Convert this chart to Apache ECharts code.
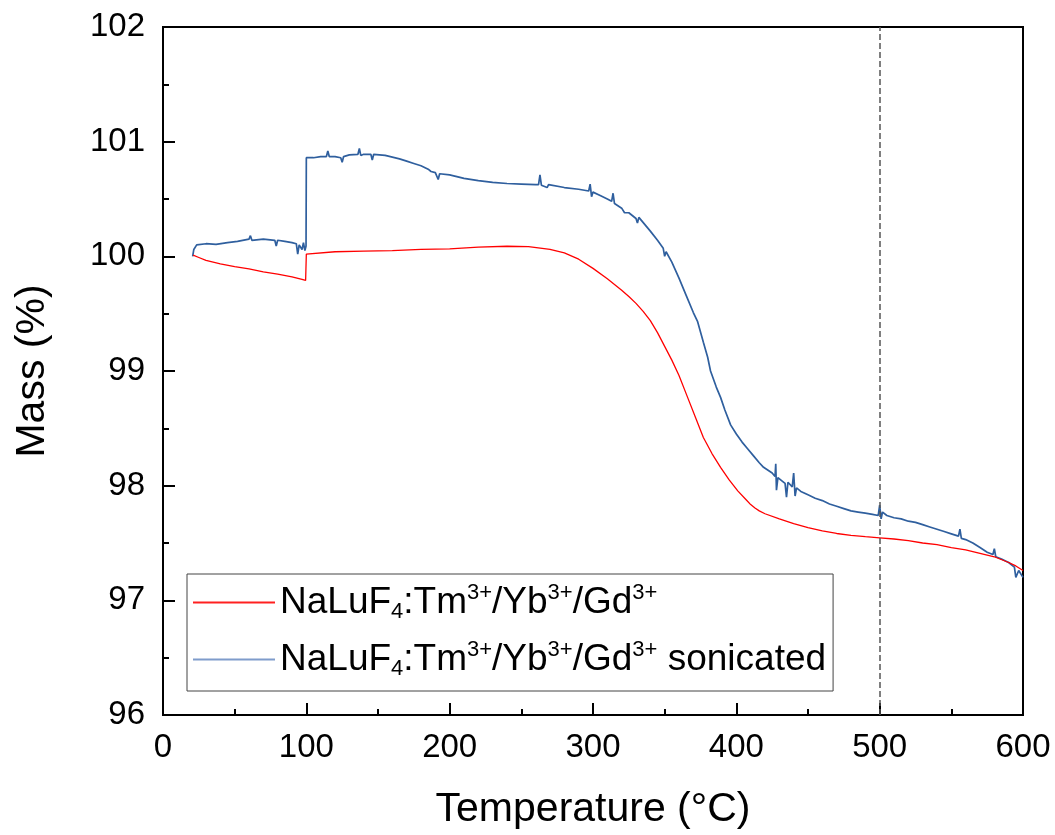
<!DOCTYPE html>
<html>
<head>
<meta charset="utf-8">
<script src="https://cdn.jsdelivr.net/npm/echarts@6/dist/echarts.min.js"></script>
<style>
  html, body { margin: 0; padding: 0; background: #fff; }
  #main { width: 1055px; height: 835px; }
</style>
</head>
<body>
<div id="main"></div>
<script>
var seriesNames = ['NaLuF4:Tm3+/Yb3+/Gd3+', 'NaLuF4:Tm3+/Yb3+/Gd3+ sonicated'];

// red curve (as prepared)
var redTemp = [21, 25, 30, 40, 50, 60, 70, 80, 90, 97, 99.5, 100, 101, 120, 140, 160, 180, 200, 220, 240,
    255, 270, 280, 290, 300, 310, 320, 325, 330, 335, 340, 345, 350, 355, 360, 366, 372, 377, 383, 389, 395, 401, 407,
    410, 413, 416, 420, 430, 440, 450, 460, 470, 480, 490, 500, 510, 520, 530, 540, 550, 560, 570, 580, 590, 595, 600];
var redMass = [100.01, 99.99, 99.965, 99.935, 99.91, 99.89, 99.865, 99.845, 99.82, 99.80, 99.79, 100.02, 100.035, 100.04, 100.045, 100.05, 100.06, 100.065, 100.08, 100.088,
    100.085, 100.06, 100.03, 99.975, 99.895, 99.805, 99.705, 99.65, 99.59, 99.52, 99.44, 99.335, 99.215, 99.095, 98.96, 98.77, 98.58, 98.42, 98.28, 98.16, 98.05, 97.955, 97.875,
    97.835, 97.805, 97.78, 97.755, 97.71, 97.67, 97.635, 97.605, 97.583, 97.567, 97.555, 97.545, 97.535, 97.52, 97.50, 97.485, 97.46, 97.44, 97.41, 97.38, 97.33, 97.30, 97.26];

// blue curve (sonicated), spikes included
var blueTemp = [20.7, 21.5, 23.5, 30, 37, 45, 52, 60, 61, 62, 70, 78, 79, 80, 85, 90, 93, 94, 95, 97, 98, 99, 99.8,
    100, 105, 110, 114, 115, 116, 120, 124, 125, 126, 130, 136, 137, 138, 140, 145, 146, 147, 155, 165, 170, 175, 180,
    185, 187, 190, 192, 193, 200, 210, 220, 230, 240, 250, 260, 262, 263, 264, 268, 269, 280, 290, 297, 298, 299, 300,
    305, 310, 313, 314, 315, 320, 322, 325, 330, 331, 332, 340, 345, 349, 350, 351, 355, 360, 365, 370, 373, 377, 380,
    382, 386, 389, 392, 396, 400, 404, 408, 412, 416, 419, 425, 427, 427.5, 428, 429, 432, 434, 435, 436, 439, 440, 441,
    442, 445, 450, 455, 460, 465, 470, 475, 480, 485, 490, 495, 499, 500, 501, 502, 505, 510, 515, 520, 525, 530, 535,
    540, 545, 550, 555, 556, 557, 560, 565, 570, 575, 579, 580, 581, 585, 590, 594, 595, 597, 600];
var blueMass = [100.0, 100.06, 100.10, 100.11, 100.105, 100.12, 100.13, 100.15, 100.18, 100.14, 100.15, 100.14, 100.09, 100.14, 100.13, 100.12, 100.11, 100.02, 100.10, 100.06, 100.12, 100.05, 100.09,
    100.86, 100.86, 100.87, 100.87, 100.92, 100.87, 100.87, 100.86, 100.82, 100.87, 100.885, 100.89, 100.94, 100.88, 100.89, 100.89, 100.84, 100.89, 100.88, 100.85, 100.83, 100.81, 100.79,
    100.76, 100.74, 100.73, 100.67, 100.72, 100.71, 100.68, 100.66, 100.645, 100.635, 100.63, 100.625, 100.625, 100.71, 100.62, 100.60, 100.625, 100.60, 100.585, 100.57, 100.63, 100.52, 100.56,
    100.53, 100.50, 100.48, 100.55, 100.46, 100.42, 100.38, 100.38, 100.33, 100.29, 100.34, 100.22, 100.14, 100.07, 100.00, 100.04, 99.95, 99.81, 99.66, 99.51, 99.43, 99.25, 99.12,
    99.00, 98.86, 98.77, 98.66, 98.53, 98.45, 98.38, 98.32, 98.26, 98.20, 98.16, 98.11, 98.08, 98.19, 97.96, 98.07, 98.04, 98.02, 97.90, 98.03, 97.99, 98.11, 97.91,
    97.98, 97.95, 97.92, 97.89, 97.87, 97.84, 97.82, 97.80, 97.78, 97.77, 97.76, 97.75, 97.74, 97.83, 97.71, 97.77, 97.74, 97.72, 97.71, 97.69, 97.68, 97.66, 97.64,
    97.62, 97.60, 97.58, 97.56, 97.62, 97.54, 97.53, 97.50, 97.46, 97.42, 97.40, 97.45, 97.38, 97.36, 97.33, 97.29, 97.20, 97.26, 97.20];

var refLineTemp = 500;

function pairs(xs, ys) {
    var out = [];
    for (var i = 0; i < xs.length; i++) out.push([xs[i], ys[i]]);
    return out;
}

var font = '"Liberation Sans", Arial, sans-serif';
var myChart = echarts.init(document.getElementById('main'));

var option = {
    backgroundColor: '#fff',
    animation: false,
    textStyle: { fontFamily: font },
    grid: {
        left: 163, right: 32, top: 27, bottom: 116,
        show: true, borderColor: '#000', borderWidth: 2
    },
    legend: {
        orient: 'vertical',
        left: 187,
        top: 574,
        padding: [8, 7, 11, 6],
        itemGap: 16,
        itemWidth: 82,
        itemHeight: 2,
        itemTextGap: 10,
        icon: 'rect',
        backgroundColor: '#fff',
        borderColor: '#444',
        borderWidth: 1,
        data: [
            { name: seriesNames[0], itemStyle: { color: '#ff2020' } },
            { name: seriesNames[1], itemStyle: { color: '#7f9ccb' } }
        ],
        formatter: function (name) {
            var s = '{n|NaLuF}{sub|4}{n|:Tm}{sup|3+}{n|/Yb}{sup|3+}{n|/Gd}{sup|3+}';
            if (name === seriesNames[1]) s += '{n| sonicated}';
            return s;
        },
        textStyle: {
            color: '#000',
            fontFamily: font,
            fontSize: 37,
            rich: {
                n: { fontSize: 37, lineHeight: 41, fontFamily: font, color: '#000' },
                sup: { fontSize: 22, lineHeight: 22, verticalAlign: 'top', fontFamily: font, color: '#000' },
                sub: { fontSize: 22, lineHeight: 10, verticalAlign: 'bottom', fontFamily: font, color: '#000' }
            }
        }
    },
    xAxis: {
        type: 'value',
        min: 0,
        max: 600,
        interval: 100,
        name: 'Temperature (°C)',
        nameLocation: 'middle',
        nameGap: 74,
        nameTextStyle: { fontSize: 41, color: '#000', fontFamily: font },
        axisLine: { show: true, onZero: false, lineStyle: { color: '#000', width: 2 } },
        axisTick: { show: true, inside: true, length: 12, lineStyle: { color: '#000', width: 2 } },
        minorTick: { show: true, splitNumber: 2, length: 6, lineStyle: { color: '#000', width: 2 } },
        axisLabel: { color: '#000', fontSize: 33, margin: 16, fontFamily: font },
        splitLine: { show: false }
    },
    yAxis: {
        type: 'value',
        min: 96,
        max: 102,
        interval: 1,
        name: 'Mass (%)',
        nameLocation: 'middle',
        nameGap: 110,
        nameTextStyle: { fontSize: 41, color: '#000', fontFamily: font },
        axisLine: { show: true, onZero: false, lineStyle: { color: '#000', width: 2 } },
        axisTick: { show: true, inside: true, length: 12, lineStyle: { color: '#000', width: 2 } },
        minorTick: { show: true, splitNumber: 2, length: 6, lineStyle: { color: '#000', width: 2 } },
        axisLabel: { color: '#000', fontSize: 33, margin: 18, fontFamily: font },
        splitLine: { show: false }
    },
    series: [
        {
            name: seriesNames[0],
            type: 'line',
            showSymbol: false,
            z: 3,
            lineStyle: { color: '#ff0000', width: 1.3 },
            itemStyle: { color: '#ff0000' },
            data: pairs(redTemp, redMass),
            markLine: {
                silent: true,
                symbol: 'none',
                label: { show: false },
                lineStyle: { color: '#555', type: [6, 3], width: 1.5 },
                data: [{ xAxis: refLineTemp }]
            }
        },
        {
            name: seriesNames[1],
            type: 'line',
            showSymbol: false,
            z: 2,
            lineStyle: { color: '#2f5f9e', width: 1.7 },
            itemStyle: { color: '#2f5f9e' },
            data: pairs(blueTemp, blueMass)
        }
    ]
};

myChart.setOption(option);
</script>
</body>
</html>
